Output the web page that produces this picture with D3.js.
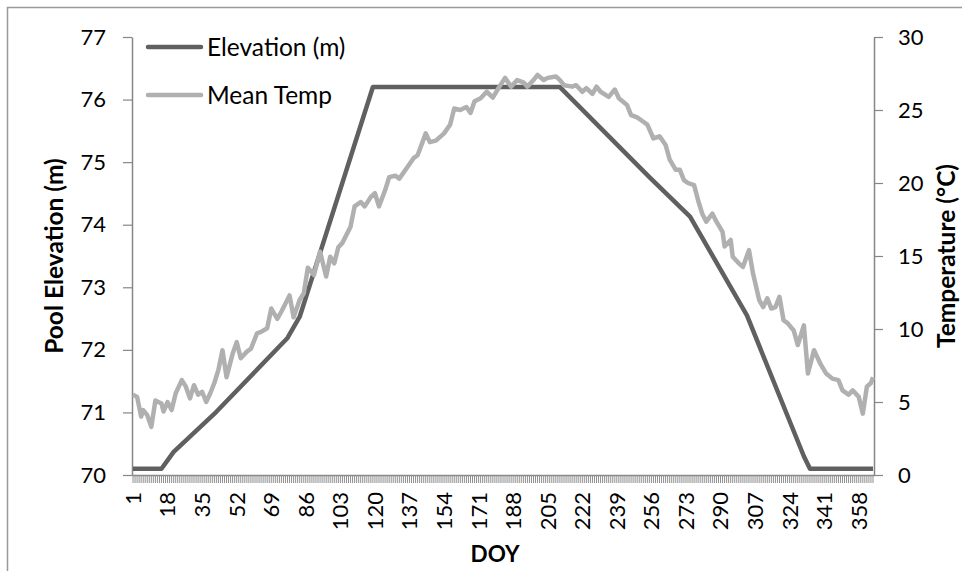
<!DOCTYPE html>
<html>
<head>
<meta charset="utf-8">
<script src="https://cdn.jsdelivr.net/npm/d3@7"></script>
<style>
  html, body { margin: 0; padding: 0; background: #fff; }
  text { font-family: Lato, "Open Sans", sans-serif; fill: #000; }
</style>
</head>
<body>
<div id="chart"></div>
<script>
// Day of year categories and axis labels
const days = d3.range(1, 366);
const labelDays = [1, 18, 35, 52, 69, 86, 103, 120, 137, 154, 171, 188, 205, 222, 239, 256, 273, 290, 307, 324, 341, 358];
const elevTicks = [70, 71, 72, 73, 74, 75, 76, 77];
const tempTicks = [0, 5, 10, 15, 20, 25, 30];

// Pool elevation (m), breakpoints
const elevDays = [1, 15, 21, 42, 77, 83, 119, 211, 255, 275, 303, 331, 334, 365];
const elevValues = [70.1, 70.1, 70.37, 71.01, 72.19, 72.53, 76.2, 76.2, 74.76, 74.13, 72.55, 70.3, 70.1, 70.1];

// Mean water temperature (°C)
const tempDays = [1, 3, 5, 6, 8, 10, 12, 15, 16, 18, 20, 22, 25, 27, 29, 31, 33, 35, 37, 39,
  41, 43, 45, 47, 50, 52, 54, 57, 59, 62, 64, 67, 69, 72, 74, 76, 78, 80, 83, 85,
  87, 90, 93, 96, 98, 100, 102, 104, 108, 110, 113, 115, 118, 120, 122, 125, 127, 130, 132, 136,
  139, 141, 145, 147, 150, 154, 157, 159, 162, 165, 167, 169, 172, 175, 178, 181, 184, 187, 190, 193,
  195, 198, 200, 203, 205, 209, 211, 213, 217, 219, 222, 224, 227, 229, 231, 235, 238, 240, 244, 246,
  249, 251, 254, 257, 260, 263, 265, 268, 270, 272, 274, 277, 279, 281, 283, 286, 288, 291, 292, 295,
  296, 299, 301, 304, 306, 309, 311, 313, 315, 317, 319, 321, 323, 326, 328, 331, 333, 336, 339, 342,
  345, 348, 350, 353, 355, 358, 360, 362, 364, 365];
const tempValues = [5.5, 5.35, 4.0, 4.45, 4.1, 3.3, 5.1, 4.9, 4.35, 5.0, 4.45, 5.6, 6.5, 6.05, 5.25, 6.15, 5.5, 5.7, 5.0, 5.6,
  6.3, 7.2, 8.55, 6.7, 8.3, 9.1, 8.0, 8.45, 8.65, 9.7, 9.8, 10.05, 11.4, 10.7, 11.2, 11.75, 12.3, 10.8, 12.0, 12.45,
  14.2, 13.7, 15.3, 13.6, 14.95, 14.5, 15.6, 15.9, 17.0, 18.4, 18.7, 18.4, 19.05, 19.3, 18.4, 19.5, 20.4, 20.5, 20.3, 21.1,
  21.7, 21.9, 23.4, 22.8, 22.9, 23.4, 24.0, 25.1, 25.0, 25.2, 24.8, 25.6, 25.8, 26.25, 25.85, 26.55, 27.2, 26.6, 27.05, 26.9,
  26.6, 27.05, 27.4, 27.05, 27.2, 27.3, 27.05, 26.7, 26.6, 26.7, 26.25, 26.5, 26.1, 26.6, 26.25, 25.9, 26.4, 25.8, 25.35, 24.65,
  24.5, 24.3, 24.0, 23.05, 23.2, 22.6, 21.6, 20.9, 20.9, 20.2, 20.0, 19.85, 18.8, 17.9, 17.35, 17.9, 17.35, 16.65, 15.65, 16.1,
  14.95, 14.5, 14.25, 15.4, 13.8, 12.0, 11.5, 12.1, 11.4, 11.5, 12.2, 10.6, 10.4, 9.9, 8.9, 10.25, 6.95, 8.55, 7.65, 6.95,
  6.6, 6.5, 5.8, 5.5, 5.8, 5.35, 4.2, 6.05, 6.3, 6.7];

const width = 962, height = 571;
const plotLeft = 132, plotRight = 874, plotTop = 37, plotBottom = 475;
const axisColor = "#868686";

const svg = d3.select("#chart").append("svg")
  .attr("width", width).attr("height", height);

// chart area border (only top and left edges fall inside the picture)
svg.append("rect").attr("x", 7.5).attr("y", 7.5).attr("width", 1000).attr("height", 1000)
  .attr("fill", "none").attr("stroke", "#999").attr("stroke-width", 1.5);

const x = d3.scaleBand().domain(days).range([plotLeft, plotRight]);
const xc = d => x(d) + x.bandwidth() / 2;
const yL = d3.scaleLinear().domain([70, 77]).range([plotBottom, plotTop]);
const yR = d3.scaleLinear().domain([0, 30]).range([plotBottom, plotTop]);

function styleAxis(g) {
  g.selectAll(".domain").attr("stroke", axisColor).attr("stroke-width", 1.5);
  g.selectAll(".tick line").attr("stroke", axisColor).attr("stroke-width", 1.2);
  g.selectAll("text").attr("font-size", 22).attr("fill", "#000");
}

// left axis
svg.append("g").attr("transform", `translate(${plotLeft},0)`)
  .call(d3.axisLeft(yL).tickValues(elevTicks).tickFormat(d3.format("d"))
    .tickSize(9).tickSizeOuter(0).tickPadding(17))
  .call(styleAxis);

// right axis
svg.append("g").attr("transform", `translate(${plotRight},0)`)
  .call(d3.axisRight(yR).tickValues(tempTicks).tickFormat(d3.format("d"))
    .tickSize(9).tickSizeOuter(0).tickPadding(15))
  .call(styleAxis);

// bottom axis, one tick per day
const xAxis = svg.append("g").attr("transform", `translate(0,${plotBottom})`)
  .call(d3.axisBottom(x).tickValues(days).tickSize(8).tickSizeOuter(0)
    .tickFormat(d => labelDays.includes(d) ? d : ""))
  .call(styleAxis);
xAxis.selectAll(".tick line").attr("stroke-width", 1).attr("stroke", "#8f8f8f");
xAxis.selectAll("text")
  .attr("transform", "rotate(-90)")
  .attr("text-anchor", "end")
  .attr("x", -17).attr("y", 0).attr("dy", "0.36em");

// series
const elevLine = d3.line().x(d => xc(d[0])).y(d => yL(d[1]));
const tempLine = d3.line().x(d => xc(d[0])).y(d => yR(d[1]));

svg.append("path").datum(d3.zip(elevDays, elevValues))
  .attr("d", elevLine).attr("fill", "none")
  .attr("stroke", "#606060").attr("stroke-width", 4.5).attr("stroke-linejoin", "round");

svg.append("path").datum(d3.zip(tempDays, tempValues))
  .attr("d", tempLine).attr("fill", "none")
  .attr("stroke", "#b0b0b0").attr("stroke-width", 4.5).attr("stroke-linejoin", "round");

// legend
const legend = [
  { name: "Elevation (m)", color: "#606060", y: 47 },
  { name: "Mean Temp", color: "#b0b0b0", y: 95 }
];
const lg = svg.append("g").selectAll("g").data(legend).enter().append("g");
lg.append("line").attr("x1", 148).attr("x2", 201).attr("y1", d => d.y).attr("y2", d => d.y)
  .attr("stroke", d => d.color).attr("stroke-width", 4.5).attr("stroke-linecap", "round");
lg.append("text").attr("x", 207).attr("y", d => d.y).attr("dy", "0.35em")
  .attr("font-size", 24.5).text(d => d.name);

// axis titles
svg.append("text")
  .attr("transform", `translate(63,${(plotTop + plotBottom) / 2}) rotate(-90)`)
  .attr("text-anchor", "middle").attr("font-size", 24.5).attr("font-weight", "bold")
  .text("Pool Elevation (m)");

svg.append("text")
  .attr("transform", `translate(955,${(plotTop + plotBottom) / 2}) rotate(-90)`)
  .attr("text-anchor", "middle").attr("font-size", 24.5).attr("font-weight", "bold")
  .text("Temperature (°C)");

svg.append("text")
  .attr("x", 495).attr("y", 562)
  .attr("text-anchor", "middle").attr("font-size", 22.5).attr("font-weight", "bold")
  .text("DOY");
</script>
</body>
</html>
